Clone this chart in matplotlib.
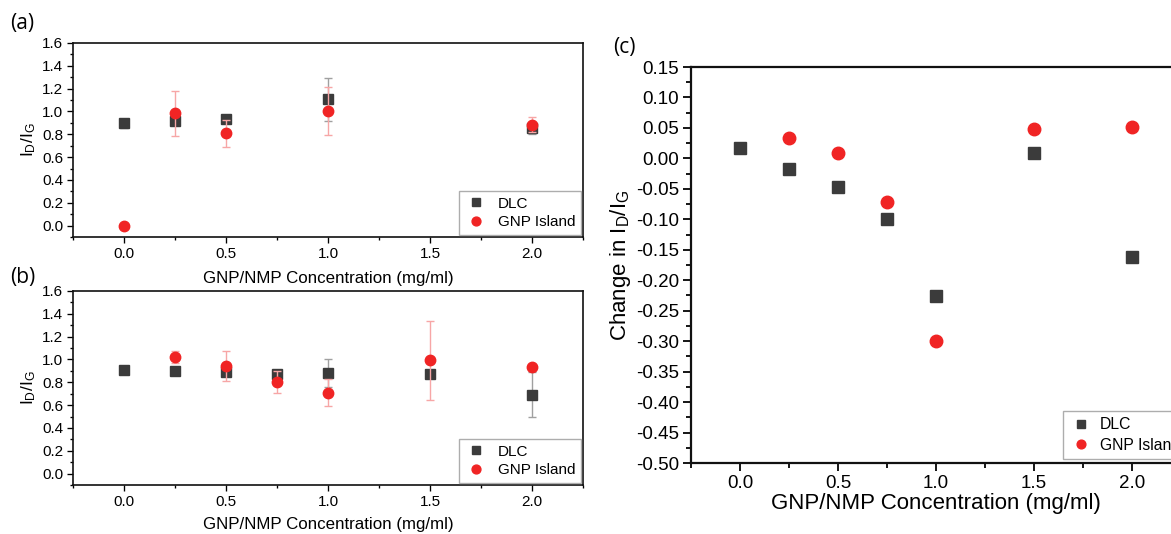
import matplotlib
matplotlib.use("Agg")
import matplotlib.pyplot as plt
from matplotlib.ticker import MultipleLocator, FormatStrFormatter

plt.rcParams['font.family'] = ['Liberation Sans', 'DejaVu Sans']
plt.rcParams['mathtext.default'] = 'regular'

# ---- data ----
# panel (a)
a_dlc_x = [0.0, 0.25, 0.5, 1.0, 2.0]
a_dlc_y = [0.895, 0.919, 0.934, 1.107, 0.851]
a_dlc_err = [0.04, 0.02, 0.02, 0.19, 0.05]
a_gnp_x = [0.0, 0.25, 0.5, 1.0, 2.0]
a_gnp_y = [0.0, 0.986, 0.807, 1.007, 0.884]
a_gnp_err = [0.0, 0.197, 0.115, 0.21, 0.065]

# panel (b)
b_dlc_x = [0.0, 0.25, 0.5, 0.75, 1.0, 1.5, 2.0]
b_dlc_y = [0.910, 0.901, 0.890, 0.869, 0.881, 0.875, 0.693]
b_dlc_err = [0.03, 0.03, 0.03, 0.04, 0.125, 0.02, 0.20]
b_gnp_x = [0.25, 0.5, 0.75, 1.0, 1.5, 2.0]
b_gnp_y = [1.022, 0.942, 0.804, 0.710, 0.992, 0.937]
b_gnp_err = [0.05, 0.13, 0.095, 0.12, 0.345, 0.0]

# panel (c)
c_dlc_x = [0.0, 0.25, 0.5, 0.75, 1.0, 1.5, 2.0]
c_dlc_y = [0.0175, -0.017, -0.047, -0.100, -0.226, 0.009, -0.162]
c_gnp_x = [0.25, 0.5, 0.75, 1.0, 1.5, 2.0]
c_gnp_y = [0.033, 0.009, -0.071, -0.300, 0.049, 0.052]

series_labels = ['DLC', 'GNP Island']
xlabel = 'GNP/NMP Concentration (mg/ml)'
ylabel_ab = 'I$_{D}$/I$_{G}$'
ylabel_c = 'Change in I$_{D}$/I$_{G}$'

DLC_COLOR = '#3b3b3b'
GNP_COLOR = '#f02424'
DLC_ERR = '#a0a0a0'
GNP_ERR = '#f7a6a6'

W, H = 1171, 534
fig = plt.figure(figsize=(W / 100, H / 100), dpi=100)


def box(l, t, r, b):
    return [l / W, 1 - b / H, (r - l) / W, (b - t) / H]


def style_axes(ax, ytick_major, ytick_minor, fmt, fs, lw):
    ax.set_xlim(-0.25, 2.25)
    ax.xaxis.set_major_locator(MultipleLocator(0.5))
    ax.xaxis.set_minor_locator(MultipleLocator(0.25))
    ax.xaxis.set_major_formatter(FormatStrFormatter('%.1f'))
    ax.yaxis.set_major_locator(MultipleLocator(ytick_major))
    ax.yaxis.set_minor_locator(MultipleLocator(ytick_minor))
    ax.yaxis.set_major_formatter(FormatStrFormatter(fmt))
    ax.tick_params(which='both', direction='out', top=False, right=False,
                   labelsize=fs, width=lw * 0.8, colors='black', pad=2.5)
    ax.tick_params(which='major', length=4.5)
    ax.tick_params(which='minor', length=2.5)
    for s in ax.spines.values():
        s.set_linewidth(lw)
        s.set_color('#111111')


def panel_ab(ax, dx, dy, de, gx, gy, ge):
    ax.errorbar(dx, dy, yerr=de, fmt='s', color=DLC_COLOR, ecolor=DLC_ERR,
                elinewidth=1.0, capsize=3, capthick=1.0, markersize=7,
                label=series_labels[0], zorder=3)
    ax.errorbar(gx, gy, yerr=ge, fmt='o', color=GNP_COLOR, ecolor=GNP_ERR,
                elinewidth=1.0, capsize=3, capthick=1.0, markersize=7.5,
                label=series_labels[1], zorder=4)
    ax.set_ylim(-0.1, 1.6)
    style_axes(ax, 0.2, 0.1, '%.1f', 11, 1.2)
    ax.set_ylabel(ylabel_ab, fontsize=12.5, labelpad=3)
    handles, labels = ax.get_legend_handles_labels()
    handles = [h[0] for h in handles]
    leg = ax.legend(handles, labels, loc='lower right', fontsize=11,
                    frameon=True, fancybox=False, borderaxespad=0.15,
                    handletextpad=0.6, handlelength=1.6, borderpad=0.35,
                    labelspacing=0.3, markerscale=0.85)
    leg.get_frame().set_edgecolor('#999999')
    leg.get_frame().set_linewidth(1.0)


axa = fig.add_axes(box(73, 43, 583, 237))
panel_ab(axa, a_dlc_x, a_dlc_y, a_dlc_err, a_gnp_x, a_gnp_y, a_gnp_err)
axb = fig.add_axes(box(73, 291, 583, 485))
panel_ab(axb, b_dlc_x, b_dlc_y, b_dlc_err, b_gnp_x, b_gnp_y, b_gnp_err)

fig.text(328 / W, 1 - 279 / H, xlabel, ha='center', va='center', fontsize=12.2)
fig.text(328 / W, 1 - 525 / H, xlabel, ha='center', va='center', fontsize=12.2)

# panel (c)
axc = fig.add_axes(box(691, 67, 1181, 463))
axc.plot(c_dlc_x, c_dlc_y, 's', color=DLC_COLOR, markersize=8.5,
         label=series_labels[0], zorder=3)
axc.plot(c_gnp_x, c_gnp_y, 'o', color=GNP_COLOR, markersize=9,
         label=series_labels[1], zorder=4)
axc.set_ylim(-0.50, 0.15)
style_axes(axc, 0.05, 0.025, '%.2f', 13.5, 1.6)
axc.tick_params(which='major', length=6)
axc.tick_params(which='minor', length=3.5)
axc.set_xlabel(xlabel, fontsize=16, labelpad=1)
axc.set_ylabel(ylabel_c, fontsize=16, labelpad=2)
legc = axc.legend(loc='lower left', bbox_to_anchor=(0.759, 0.01),
                  fontsize=11.3, frameon=True, fancybox=False,
                  borderaxespad=0.0, handletextpad=0.45, handlelength=1.5,
                  borderpad=0.4, labelspacing=0.35, markerscale=0.7)
legc.get_frame().set_edgecolor('#999999')
legc.get_frame().set_linewidth(1.0)

# panel labels
fig.text(10 / W, 1 - 24 / H, '(a)', fontsize=15, va='center', ha='left',
         family=['Open Sans', 'DejaVu Sans'])
fig.text(10 / W, 1 - 277 / H, '(b)', fontsize=15, va='center', ha='left',
         family=['Open Sans', 'DejaVu Sans'])
fig.text(613 / W, 1 - 48 / H, '(c)', fontsize=15, va='center', ha='left',
         family=['Open Sans', 'DejaVu Sans'])

fig.savefig('out.png', dpi=100)
